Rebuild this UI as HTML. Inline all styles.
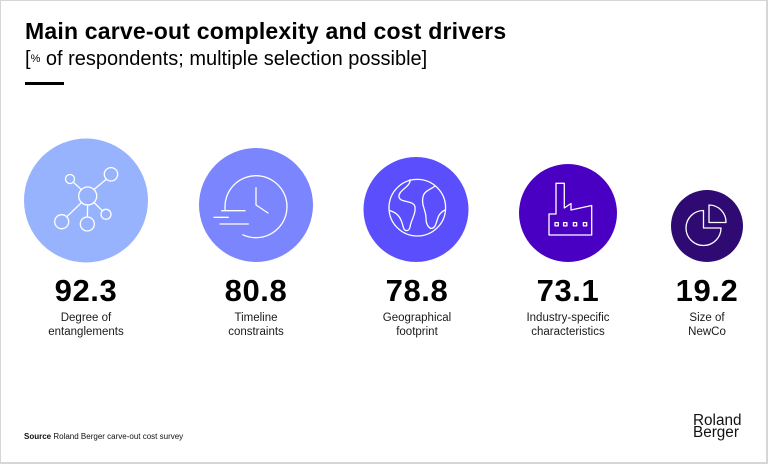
<!DOCTYPE html>
<html>
<head>
<meta charset="utf-8">
<style>
  html,body{margin:0;padding:0;}
  body{width:768px;height:464px;position:relative;background:#fff;overflow:hidden;font-family:"Liberation Sans",Arial,sans-serif;color:#000;}
  .frame{position:absolute;left:0;top:0;width:768px;height:464px;box-sizing:border-box;border:1px solid #d6d6d6;border-right-width:2px;border-bottom-width:2px;}
  .t{position:absolute;white-space:nowrap;}
  .title{left:25px;top:19.5px;font-size:23px;line-height:23px;font-weight:bold;letter-spacing:0.2px;}
  .sub{left:25px;top:49px;font-size:20px;line-height:20px;}
  .sub .pct{font-size:11px;vertical-align:3px;}
  .bar{position:absolute;left:25px;top:82px;width:39px;height:3px;background:#000;}
  .num{font-size:31px;line-height:31px;font-weight:bold;text-align:center;width:140px;top:274.8px;letter-spacing:0.6px;}
  .lab{font-size:11.5px;line-height:13.5px;text-align:center;width:140px;top:312.3px;color:#1a1a1a;}
  .src{left:24px;top:433px;font-size:8px;line-height:8px;color:#111;}
  .logo{left:693px;top:414.5px;font-size:15.3px;line-height:12.5px;color:#111;}
  svg{position:absolute;left:0;top:0;}
</style>
</head>
<body>
<div class="frame"></div>

<div class="t title">Main carve-out complexity and cost drivers</div>
<div class="t sub">[<span class="pct">%</span> of respondents; multiple selection possible]</div>
<div class="bar"></div>

<svg width="768" height="464" viewBox="0 0 768 464">
  <circle cx="86" cy="200.5" r="62" fill="#98b3fe"/>
  <circle cx="256" cy="205" r="57" fill="#7b85fd"/>
  <circle cx="416" cy="209.5" r="52.5" fill="#5b4ffd"/>
  <circle cx="568" cy="213" r="49" fill="#4a00c3"/>
  <circle cx="707" cy="226" r="36" fill="#2e0a72"/>

  <g fill="none" stroke="#fff" stroke-width="1.3" stroke-linecap="round" stroke-linejoin="round">
    <!-- network -->
    <circle cx="87.7" cy="196" r="9"/>
    <circle cx="70" cy="179" r="4.5"/>
    <circle cx="111" cy="174.3" r="6.7"/>
    <circle cx="61.7" cy="221.7" r="7"/>
    <circle cx="87.3" cy="224" r="7"/>
    <circle cx="106" cy="214.3" r="5"/>
    <line x1="73.3" y1="182.2" x2="81.4" y2="189.6"/>
    <line x1="94" y1="189.5" x2="106.3" y2="179.2"/>
    <line x1="81.5" y1="202.6" x2="66.7" y2="216.8"/>
    <line x1="87.6" y1="205" x2="87.4" y2="217"/>
    <line x1="94" y1="202.5" x2="102.4" y2="210.8"/>

    <!-- clock -->
    <path d="M225.1 209.4 A31 31 0 1 1 242.9 234.8"/>
    <polyline points="256,187.7 256,205 268,213"/>
    <line x1="221.7" y1="210.7" x2="245" y2="210.7"/>
    <line x1="214" y1="217.3" x2="228.3" y2="217.3"/>
    <line x1="220" y1="224" x2="248.3" y2="224"/>

    <!-- globe -->
    <circle cx="417.3" cy="207.7" r="28.3"/>
    <path d="M410 179.6 C411 187 398 190 399 197 C400 203 414 200 415 207 C416 214 411 220 410 227 C409 232 404 232 403 226 C401 218 398 213 389.5 210.5"/>
    <path d="M435 186 C430 190 424 191 423 197 C421 205 426 210 426 218 C426 226 431 232 435 226 C438 220 437 214 445 210"/>

    <!-- factory -->
    <path d="M549 235 L549 214 L556 214 L556 183.3 L564.3 183.3 L564.3 208 L571 203.5 L571 210 L591.7 205.5 L591.7 235 Z"/>
    <rect x="555" y="222.6" width="3.3" height="3.3"/>
    <rect x="563.6" y="222.6" width="3.3" height="3.3"/>
    <rect x="573.4" y="222.6" width="3.3" height="3.3"/>
    <rect x="583.4" y="222.6" width="3.3" height="3.3"/>

    <!-- pie -->
    <path d="M703.5 210.5 L703.5 228 L721 228 A17.5 17.5 0 1 1 703.5 210.5"/>
    <path d="M709 205 L709 222.5 L726 222.5 A17 17 0 0 0 709 205"/>
  </g>
</svg>

<div class="t num" style="left:16px;">92.3</div>
<div class="t num" style="left:186px;">80.8</div>
<div class="t num" style="left:347px;">78.8</div>
<div class="t num" style="left:498px;">73.1</div>
<div class="t num" style="left:637px;">19.2</div>

<div class="t lab" style="left:16px;">Degree of<br>entanglements</div>
<div class="t lab" style="left:186px;">Timeline<br>constraints</div>
<div class="t lab" style="left:347px;">Geographical<br>footprint</div>
<div class="t lab" style="left:498px;">Industry-specific<br>characteristics</div>
<div class="t lab" style="left:637px;">Size of<br>NewCo</div>

<div class="t src"><b>Source</b> Roland Berger carve-out cost survey</div>
<div class="t logo">Roland<br>Berger</div>
</body>
</html>
